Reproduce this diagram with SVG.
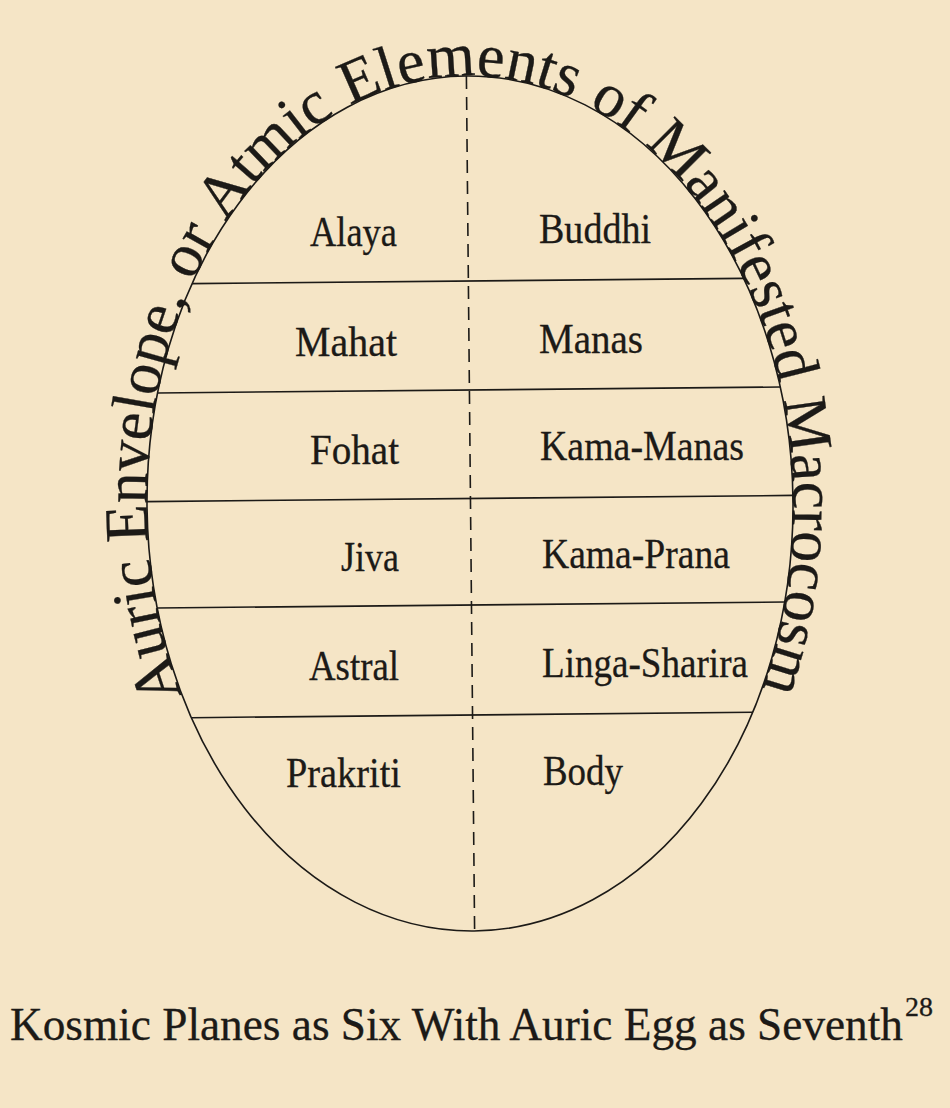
<svg xmlns="http://www.w3.org/2000/svg" width="950" height="1108" viewBox="0 0 950 1108">
<style>
.bg{fill:#f5e5c6}
.ln{stroke:#1c1a17;stroke-width:1.6;fill:none}
.dash{stroke:#1c1a17;stroke-width:1.6;stroke-dasharray:13 8;fill:none}
.lbl{font-family:"Liberation Serif",serif;font-size:42px;fill:#1c1a17;stroke:#1c1a17;stroke-width:0.3}
.arc{font-family:"Liberation Serif",serif;font-size:62px;fill:#1c1a17;stroke:#1c1a17;stroke-width:0.3}
.cap{font-family:"Liberation Serif",serif;font-size:46px;fill:#1c1a17;stroke:#1c1a17;stroke-width:0.3}
</style>
<defs>
<path id="eggArc" d="M 180.2 692.2 A 323 427.5 0 1 1 759.8 692.2"/>
</defs>
<rect class="bg" x="0" y="0" width="950" height="1108"/>
<g id="egg" transform="rotate(-0.55 470 503.5)">
<ellipse class="ln" cx="470" cy="503.5" rx="323" ry="427.5"/>
<text class="arc"><textPath href="#eggArc" startOffset="0">Auric</textPath></text>
<text class="arc"><textPath href="#eggArc" startOffset="157.5">Envelope,</textPath></text>
<text class="arc"><textPath href="#eggArc" startOffset="424">or</textPath></text>
<text class="arc"><textPath href="#eggArc" startOffset="492">Atmic</textPath></text>
<text class="arc"><textPath href="#eggArc" startOffset="664">Elements</textPath></text>
<text class="arc"><textPath href="#eggArc" startOffset="912">of</textPath></text>
<text class="arc"><textPath href="#eggArc" startOffset="980">Manifested</textPath></text>
<text class="arc"><textPath href="#eggArc" startOffset="1276">Macrocosm</textPath></text>
</g>
<g id="connectors" transform="rotate(-0.55 470 503.5)">
<line class="ln" x1="194.2" y1="281" x2="745.8" y2="281"/>
<line class="ln" x1="158.6" y1="390" x2="781.4" y2="390"/>
<line class="ln" x1="147" y1="498.5" x2="793" y2="498.5"/>
<line class="ln" x1="156.2" y1="605" x2="783.8" y2="605"/>
<line class="ln" x1="189.3" y1="715" x2="750.7" y2="715"/>
<line class="dash" x1="470.5" y1="76" x2="470.5" y2="931"/>
</g>
<g id="alaya"><text class="lbl" x="310" y="246" textLength="87" lengthAdjust="spacingAndGlyphs">Alaya</text></g>
<g id="buddhi"><text class="lbl" x="539" y="243" textLength="112" lengthAdjust="spacingAndGlyphs">Buddhi</text></g>
<g id="mahat"><text class="lbl" x="295" y="356" textLength="102" lengthAdjust="spacingAndGlyphs">Mahat</text></g>
<g id="manas"><text class="lbl" x="539" y="353" textLength="104" lengthAdjust="spacingAndGlyphs">Manas</text></g>
<g id="fohat"><text class="lbl" x="310" y="464" textLength="89" lengthAdjust="spacingAndGlyphs">Fohat</text></g>
<g id="kama-manas"><text class="lbl" x="540" y="460" textLength="204" lengthAdjust="spacingAndGlyphs">Kama-Manas</text></g>
<g id="jiva"><text class="lbl" x="341" y="571" textLength="58" lengthAdjust="spacingAndGlyphs">Jiva</text></g>
<g id="kama-prana"><text class="lbl" x="542" y="568" textLength="188" lengthAdjust="spacingAndGlyphs">Kama-Prana</text></g>
<g id="astral"><text class="lbl" x="309" y="680" textLength="90" lengthAdjust="spacingAndGlyphs">Astral</text></g>
<g id="linga-sharira"><text class="lbl" x="542" y="677" textLength="206" lengthAdjust="spacingAndGlyphs">Linga-Sharira</text></g>
<g id="prakriti"><text class="lbl" x="286" y="787" textLength="115" lengthAdjust="spacingAndGlyphs">Prakriti</text></g>
<g id="body"><text class="lbl" x="543" y="785" textLength="80" lengthAdjust="spacingAndGlyphs">Body</text></g>
<g id="caption">
<text class="cap" x="10" y="1040" textLength="893" lengthAdjust="spacingAndGlyphs">Kosmic Planes as Six With Auric Egg as Seventh</text>
<text class="cap" x="905" y="1016" style="font-size:27px" textLength="28" lengthAdjust="spacingAndGlyphs">28</text>
</g>
</svg>
